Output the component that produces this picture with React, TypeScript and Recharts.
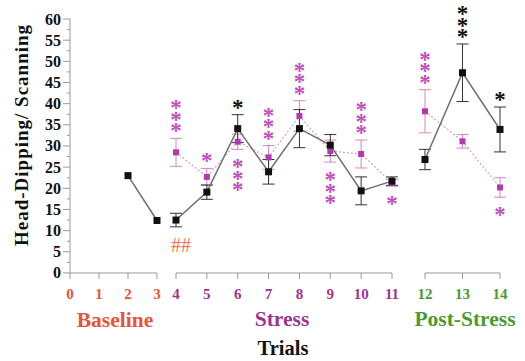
import React from 'react';
import {
  ComposedChart,
  Line,
  Scatter,
  XAxis,
  YAxis,
  ErrorBar,
  ReferenceLine,
} from 'recharts';

// Trial numbers for each phase
const baselineTrials = [0, 1, 2, 3];
const stressTrials = [4, 5, 6, 7, 8, 9, 10, 11];
const postTrials = [12, 13, 14];

// Y axis ticks (major every 5, minor halfway)
const yTicks = [
  0, 2.5, 5, 7.5, 10, 12.5, 15, 17.5, 20, 22.5, 25, 27.5, 30, 32.5, 35, 37.5, 40,
  42.5, 45, 47.5, 50, 52.5, 55, 57.5, 60,
];

// Group A (black): mean and SEM per trial
const blackBaselineTrials = [2, 3];
const blackBaselineMean = [23.0, 12.4];
const blackBaselineSem = [0, 0];

const blackStressMean = [12.5, 19.1, 34.1, 23.9, 34.1, 30.2, 19.4, 21.7];
const blackStressSem = [1.6, 1.7, 3.3, 2.9, 4.5, 2.5, 3.3, 1.0];

const blackPostMean = [26.8, 47.3, 33.9];
const blackPostSem = [2.4, 6.8, 5.3];

// Group B (purple): mean and SEM per trial
const purpleStressMean = [28.5, 22.7, 31.0, 27.3, 37.1, 28.8, 28.1, 21.3];
const purpleStressSem = [3.3, 2.0, 1.8, 2.8, 3.6, 2.6, 3.3, 0.8];

const purplePostMean = [38.2, 31.1, 20.2];
const purplePostSem = [5.1, 1.6, 2.3];

// Significance stars: count of stars, positive = above, negative = below
const blackStressSig = [0, 0, 1, 0, 0, 0, 0, 0];
const blackPostSig = [0, 3, 1];
const purpleStressSig = [3, 1, -3, 3, 3, -3, 3, -1];
const purplePostSig = [3, 0, -1];
// "##" marks versus baseline, below the group A point
const hashStress = [1, 0, 0, 0, 0, 0, 0, 0];

const C = {
  baseline: '#e6553a',
  stress: '#9a3593',
  post: '#4a9a2e',
  hash: '#f2774f',
  blackLine: '#6e6e6e',
  blackMark: '#111111',
  purpleLine: '#c9a6c6',
  purpleMark: '#b43aab',
  purpleStar: '#c24fbd',
  purpleErr: '#d585c5',
  axis: '#9a9a9a',
};

const SERIF = '"Liberation Serif", "Times New Roman", serif';

type Pt = { trial: number; mean: number; sem: number };
type Ann = { trial: number; anchor: number; count: number; dir: number; color: string; text: string };

const toSeries = (trials: number[], mean: number[], sem: number[]): Pt[] =>
  trials.map((t, i) => ({ trial: t, mean: mean[i], sem: sem[i] }));

const toStars = (trials: number[], pts: Pt[], sig: number[], color: string): Ann[] =>
  trials
    .map((t, i) => ({ t, i }))
    .filter(({ i }) => sig[i] !== 0)
    .map(({ t, i }) => ({
      trial: t,
      anchor: sig[i] > 0 ? pts[i].mean + pts[i].sem : pts[i].mean - pts[i].sem,
      count: Math.abs(sig[i]),
      dir: sig[i] > 0 ? -1 : 1,
      color,
      text: '*',
    }));

const blackBaseline = toSeries(blackBaselineTrials, blackBaselineMean, blackBaselineSem);
const blackStress = toSeries(stressTrials, blackStressMean, blackStressSem);
const blackPost = toSeries(postTrials, blackPostMean, blackPostSem);
const purpleStress = toSeries(stressTrials, purpleStressMean, purpleStressSem);
const purplePost = toSeries(postTrials, purplePostMean, purplePostSem);

const stressAnn: Ann[] = [
  ...toStars(stressTrials, blackStress, blackStressSig, C.blackMark),
  ...toStars(stressTrials, purpleStress, purpleStressSig, C.purpleStar),
  ...stressTrials
    .map((t, i) => ({ t, i }))
    .filter(({ i }) => hashStress[i] > 0)
    .map(({ t, i }) => ({
      trial: t,
      anchor: blackStress[i].mean - blackStress[i].sem,
      count: 1,
      dir: 1,
      color: C.hash,
      text: '##',
    })),
];
const postAnn: Ann[] = [
  ...toStars(postTrials, blackPost, blackPostSig, C.blackMark),
  ...toStars(postTrials, purplePost, purplePostSig, C.purpleStar),
];

const SquareDot = (size: number, fill: string) => (props: any) => {
  const { cx, cy, index } = props;
  if (cx == null || cy == null) return <g key={index} />;
  return <rect key={index} x={cx - size / 2} y={cy - size / 2} width={size} height={size} fill={fill} />;
};

const STAR_GAP = 11.5;
const STAR_SIZE = 23;

const AnnShape = (props: any) => {
  const { cx, cy, payload } = props;
  if (cx == null || cy == null) return <g />;
  const a: Ann = payload;
  if (a.text === '##') {
    return (
      <text x={cx + 5} y={cy + 18 + 7} textAnchor="middle" fontFamily={SERIF} fontSize={20} fill={a.color}>
        ##
      </text>
    );
  }
  // stack of stars, first one nearest to the error bar
  const first = a.dir < 0 ? 11 : 14;
  const y0 = cy + a.dir * first + 0.48 * STAR_SIZE;
  return (
    <text
      x={cx}
      y={y0}
      textAnchor="middle"
      fontFamily={SERIF}
      fontWeight="bold"
      fontSize={STAR_SIZE}
      fill={a.color}
    >
      {Array.from({ length: a.count }, (_, k) => (
        <tspan key={k} x={cx} dy={k === 0 ? 0 : a.dir * STAR_GAP}>
          *
        </tspan>
      ))}
    </text>
  );
};

const YTick = (props: any) => {
  const { x, y, payload } = props;
  const v = payload.value as number;
  const major = v % 5 === 0;
  return (
    <g>
      <line x1={x - (major ? 7 : 3)} x2={x} y1={y} y2={y} stroke={C.axis} strokeWidth={1} />
      {major && (
        <text
          x={x - 9}
          y={y + 5.5}
          textAnchor="end"
          fontFamily={SERIF}
          fontWeight="bold"
          fontSize={16}
          fill="#111"
        >
          {v}
        </text>
      )}
    </g>
  );
};

const xTickStyle = (fill: string) => ({
  fill,
  fontFamily: SERIF,
  fontWeight: 'bold' as const,
  fontSize: 15,
});

// near-zero height so the three phase axes share one baseline
const AXIS_H = 0.01;

export default function App() {
  return (
    <div style={{ position: 'absolute', left: 0, top: 0, width: 525, height: 361, background: '#fff' }}>
      <ComposedChart width={525} height={361} margin={{ top: 19, right: 25, bottom: 88, left: 20 }}>
        <YAxis
          type="number"
          domain={[0, 60]}
          ticks={yTicks}
          interval={0}
          width={50}
          tickLine={false}
          tickSize={0}
          tickMargin={0}
          axisLine={{ stroke: C.axis }}
          tick={<YTick />}
        />
        <XAxis
          xAxisId="base"
          type="number"
          dataKey="trial"
          domain={[0, 3]}
          ticks={baselineTrials}
          interval={0}
          padding={{ left: 0, right: 343 }}
          height={AXIS_H}
          axisLine={false}
          tickLine={{ stroke: C.axis }}
          tickSize={6}
          tickMargin={9}
          tick={xTickStyle(C.baseline)}
        />
        <XAxis
          xAxisId="stress"
          type="number"
          dataKey="trial"
          domain={[4, 11]}
          ticks={stressTrials}
          interval={0}
          padding={{ left: 106, right: 108 }}
          height={AXIS_H}
          axisLine={false}
          tickLine={{ stroke: C.axis }}
          tickSize={6}
          tickMargin={9}
          tick={xTickStyle(C.stress)}
        />
        <XAxis
          xAxisId="post"
          type="number"
          dataKey="trial"
          domain={[12, 14]}
          ticks={postTrials}
          interval={0}
          padding={{ left: 355, right: 0 }}
          height={AXIS_H}
          axisLine={false}
          tickLine={{ stroke: C.axis }}
          tickSize={6}
          tickMargin={9}
          tick={xTickStyle(C.post)}
        />

        <ReferenceLine xAxisId="base" segment={[{ x: 0, y: 0 }, { x: 3, y: 0 }]} stroke={C.axis} />
        <ReferenceLine xAxisId="stress" segment={[{ x: 4, y: 0 }, { x: 11, y: 0 }]} stroke={C.axis} />
        <ReferenceLine xAxisId="post" segment={[{ x: 12, y: 0 }, { x: 14, y: 0 }]} stroke={C.axis} />

        {/* Group B (dashed purple) */}
        <Line
          xAxisId="stress"
          data={purpleStress}
          dataKey="mean"
          type="linear"
          stroke={C.purpleLine}
          strokeWidth={1.2}
          strokeDasharray="2 2"
          dot={SquareDot(6, C.purpleMark)}
          activeDot={false}
          isAnimationActive={false}
        >
          <ErrorBar dataKey="sem" width={6} stroke={C.purpleErr} strokeWidth={1} direction="y" />
        </Line>
        <Line
          xAxisId="post"
          data={purplePost}
          dataKey="mean"
          type="linear"
          stroke={C.purpleLine}
          strokeWidth={1.2}
          strokeDasharray="2 2"
          dot={SquareDot(6, C.purpleMark)}
          activeDot={false}
          isAnimationActive={false}
        >
          <ErrorBar dataKey="sem" width={6} stroke={C.purpleErr} strokeWidth={1} direction="y" />
        </Line>

        {/* Group A (solid black) */}
        <Line
          xAxisId="base"
          data={blackBaseline}
          dataKey="mean"
          type="linear"
          stroke={C.blackLine}
          strokeWidth={1.5}
          dot={SquareDot(7, C.blackMark)}
          activeDot={false}
          isAnimationActive={false}
        />
        <Line
          xAxisId="stress"
          data={blackStress}
          dataKey="mean"
          type="linear"
          stroke={C.blackLine}
          strokeWidth={1.5}
          dot={SquareDot(7, C.blackMark)}
          activeDot={false}
          isAnimationActive={false}
        >
          <ErrorBar dataKey="sem" width={6} stroke="#333" strokeWidth={1} direction="y" />
        </Line>
        <Line
          xAxisId="post"
          data={blackPost}
          dataKey="mean"
          type="linear"
          stroke={C.blackLine}
          strokeWidth={1.5}
          dot={SquareDot(7, C.blackMark)}
          activeDot={false}
          isAnimationActive={false}
        >
          <ErrorBar dataKey="sem" width={6} stroke="#333" strokeWidth={1} direction="y" />
        </Line>

        {/* Significance marks */}
        <Scatter xAxisId="stress" data={stressAnn} dataKey="anchor" shape={AnnShape} isAnimationActive={false} />
        <Scatter xAxisId="post" data={postAnn} dataKey="anchor" shape={AnnShape} isAnimationActive={false} />
      </ComposedChart>

      <svg
        width={525}
        height={361}
        style={{ position: 'absolute', left: 0, top: 0, pointerEvents: 'none' }}
      >
        <text
          x={21}
          y={135}
          transform="rotate(-90 21 135)"
          textAnchor="middle"
          dominantBaseline="central"
          fontFamily={SERIF}
          fontWeight="bold"
          fontSize={19}
          letterSpacing={1}
          fill="#111"
        >
          Head-Dipping/ Scanning
        </text>
        <text x={115} y={327} textAnchor="middle" fontFamily={SERIF} fontWeight="bold" fontSize={21.5} fill={C.baseline}>
          Baseline
        </text>
        <text x={282} y={326} textAnchor="middle" fontFamily={SERIF} fontWeight="bold" fontSize={21.5} fill={C.stress}>
          Stress
        </text>
        <text x={465} y={326} textAnchor="middle" fontFamily={SERIF} fontWeight="bold" fontSize={21.5} fill={C.post}>
          Post-Stress
        </text>
        <text x={283} y={355} textAnchor="middle" fontFamily={SERIF} fontWeight="bold" fontSize={20.5} fill="#111">
          Trials
        </text>
      </svg>
    </div>
  );
}
